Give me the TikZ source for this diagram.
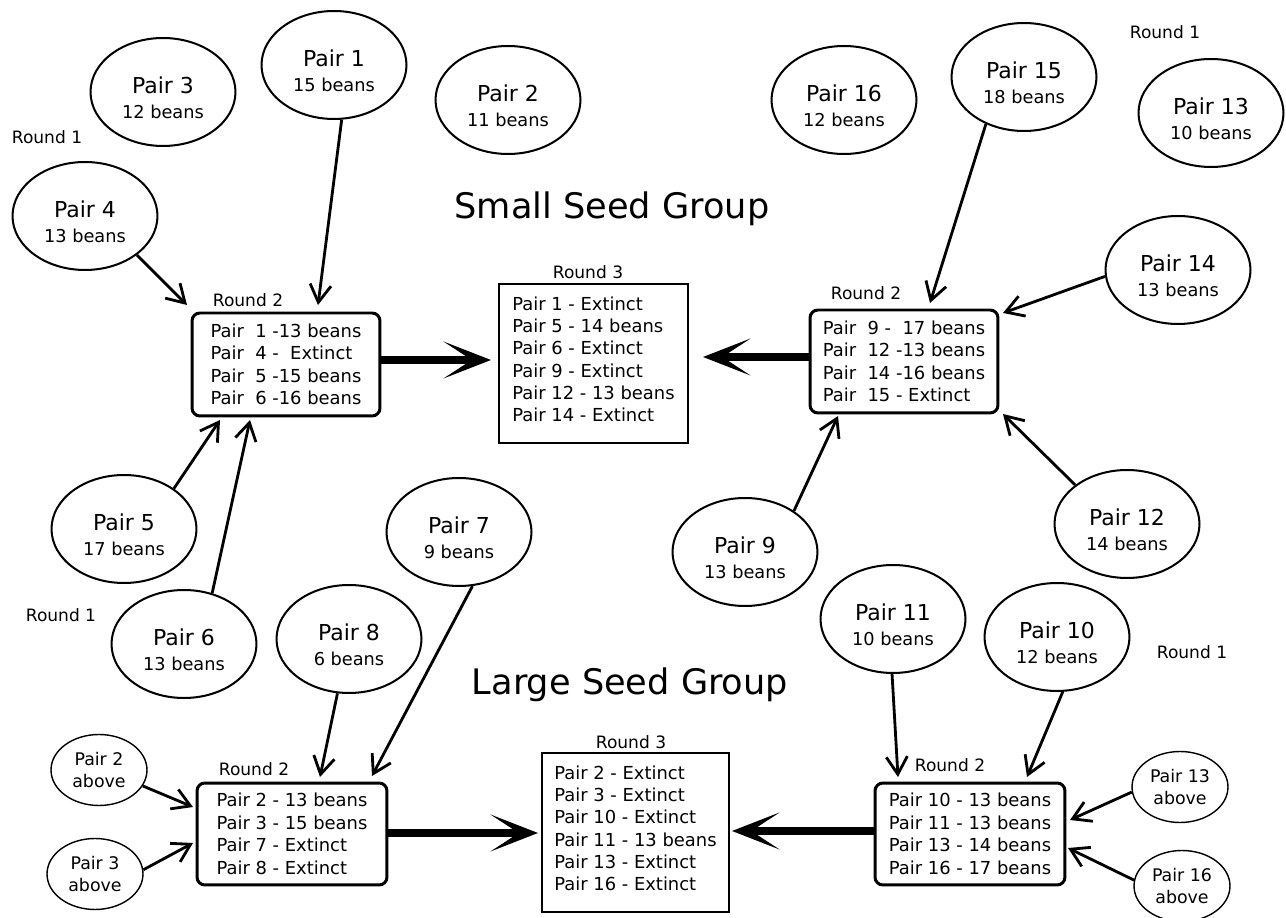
\documentclass[tikz,border=0pt]{standalone}
\usepackage{fontspec}
\setmainfont{DejaVu Sans}
\usetikzlibrary{shapes.geometric,arrows.meta}
\newcommand{\twoln}[2]{\rule{0pt}{16pt}{\fontsize{12.5}{14.7}\selectfont #1}\\{#2}}
\begin{document}
\begin{tikzpicture}[x=0.02cm,y=-0.02cm,
  ell/.style={ellipse, draw, line width=1.15pt, inner sep=0pt, minimum width=2.9cm, minimum height=2.16cm, align=center, font=\fontsize{10.1}{14.7}\selectfont},
  sell/.style={ellipse, draw, line width=0.8pt, inner sep=0pt, minimum width=1.92cm, minimum height=1.42cm, align=center, font=\fontsize{9.9}{12.4}\selectfont},
  rtwo/.style={draw, rounded corners=4.5pt, line width=1.7pt, inner sep=0pt, align=left, font=\fontsize{10.2}{12.8}\selectfont},
  rthree/.style={draw, line width=1.1pt, inner sep=0pt, align=left, font=\fontsize{10.2}{12.7}\selectfont},
  lbl/.style={inner sep=0pt, font=\fontsize{9.7}{12}\selectfont},
  ttl/.style={inner sep=0pt, anchor=base, font=\fontsize{20}{24}\selectfont},
  arr/.style={line width=1.6pt, -{Straight Barb[length=10pt,width=12pt]}},
  big/.style={line width=4pt, -{Stealth[length=27pt,width=21pt,inset=16pt]}}]
\useasboundingbox (0,0) rectangle (1286,918);

% Round 1 ellipses
\node[ell] (p1) at (334,65) {\twoln{Pair 1}{15 beans}};
\node[ell] (p2) at (508,100) {\twoln{Pair 2}{11 beans}};
\node[ell] (p3) at (163,92) {\twoln{Pair 3}{12 beans}};
\node[ell] (p4) at (85,216) {\twoln{Pair 4}{13 beans}};
\node[ell] (p5) at (124,529) {\twoln{Pair 5}{17 beans}};
\node[ell] (p6) at (184,644) {\twoln{Pair 6}{13 beans}};
\node[ell] (p7) at (459,532) {\twoln{Pair 7}{9 beans}};
\node[ell] (p8) at (349,639) {\twoln{Pair 8}{6 beans}};
\node[ell] (p9) at (745,552) {\twoln{Pair 9}{13 beans}};
\node[ell] (p10) at (1057,637) {\twoln{Pair 10}{12 beans}};
\node[ell] (p11) at (893,619) {\twoln{Pair 11}{10 beans}};
\node[ell] (p12) at (1127,524) {\twoln{Pair 12}{14 beans}};
\node[ell] (p13) at (1211,113) {\twoln{Pair 13}{10 beans}};
\node[ell] (p14) at (1178,270) {\twoln{Pair 14}{13 beans}};
\node[ell] (p15) at (1024,77) {\twoln{Pair 15}{18 beans}};
\node[ell] (p16) at (844,100) {\twoln{Pair 16}{12 beans}};

% small "above" ellipses
\node[sell] (a2) at (99,770) {Pair 2\\above};
\node[sell] (a3) at (95,874) {Pair 3\\above};
\node[sell] (a13) at (1180,787) {Pair 13\\above};
\node[sell] (a16) at (1182,886) {Pair 16\\above};

% Round labels
\node[lbl] (r1a) at (47,137) {Round 1};
\node[lbl] (r1b) at (1165,32) {Round 1};
\node[lbl] (r1c) at (61,615) {Round 1};
\node[lbl] (r1d) at (1192,652) {Round 1};
\node[lbl] (r2a) at (248,300) {Round 2};
\node[lbl] (r3a) at (588,272) {Round 3};
\node[lbl] (r2b) at (866,293) {Round 2};
\node[lbl] (r2c) at (254,769) {Round 2};
\node[lbl] (r3b) at (631,742) {Round 3};
\node[lbl] (r2d) at (950,765) {Round 2};

% titles
\node[ttl] (tsmall) at (612,219) {Small Seed Group};
\node[ttl] (tlarge) at (630,695) {Large Seed Group};

% boxes
\node[rtwo, minimum width=3.76cm, minimum height=2.06cm] (b1) at (286,364.5)
  {Pair~~1 -13 beans\\Pair~~4 -~~Extinct\\Pair~~5 -15 beans\\Pair~~6 -16 beans};
\node[rtwo, minimum width=3.76cm, minimum height=2.06cm] (b2) at (904,361.5)
  {Pair~~9 -~~17 beans\\Pair~~12 -13 beans\\Pair~~14 -16 beans\\Pair~~15 - Extinct};
\node[rtwo, minimum width=3.8cm, minimum height=2.04cm] (b3) at (292,834)
  {Pair 2 - 13 beans\\Pair 3 - 15 beans\\Pair 7 - Extinct\\Pair 8 - Extinct};
\node[rtwo, minimum width=3.8cm, minimum height=2.04cm] (b4) at (970,834)
  {Pair 10 - 13 beans\\Pair 11 - 13 beans\\Pair 13 - 14 beans\\Pair 16 - 17 beans};
\node[rthree, minimum width=3.78cm, minimum height=3.18cm] (s3) at (593.5,363.5)
  {Pair 1 - Extinct\\Pair 5 - 14 beans\\Pair 6 - Extinct\\Pair 9 - Extinct\\Pair 12 - 13 beans\\Pair 14 - Extinct\rule[-5pt]{0pt}{5pt}};
\node[rthree, minimum width=3.74cm, minimum height=3.18cm] (l3) at (635.5,832.5)
  {Pair 2 - Extinct\\Pair 3 - Extinct\\Pair 10 - Extinct\\Pair 11 - 13 beans\\Pair 13 - Extinct\\Pair 16 - Extinct\rule[-5pt]{0pt}{5pt}};

% arrow tips
\coordinate (t1) at (318,305);
\coordinate (t4) at (187,305);
\coordinate (t5) at (220,420);
\coordinate (t6) at (250,420);
\coordinate (t15) at (930,303);
\coordinate (t14) at (1003,313);
\coordinate (t9) at (838,416);
\coordinate (t12) at (1003,414);
\coordinate (t8) at (320,777);
\coordinate (t7) at (372,776);
\coordinate (ta2) at (193,807);
\coordinate (ta3) at (193,843);
\coordinate (t11) at (898,777);
\coordinate (t10) at (1027,777);
\coordinate (ta13) at (1070,820);
\coordinate (ta16) at (1068,848);
\coordinate (ks) at (491,360);
\coordinate (kr) at (703,357);
\coordinate (kl) at (538,833);
\coordinate (kq) at (732,831);

% thin arrows
\draw[arr] (p1.-82) -- (t1);
\draw[arr] (p4.-37) -- (t4);
\draw[arr] (p5.39) -- (t5);
\draw[arr] (p6.61) -- (t6);
\draw[arr] (p15.-129) -- (t15);
\draw[arr] (p14.185) -- (t14);
\draw[arr] (p9.40) -- (t9);
\draw[arr] (p12.143) -- (t12);
\draw[arr] (p8.-102) -- (t8);
\draw[arr] (p7.-76) -- (t7);
\draw[arr] (a2.-20) -- (ta2);
\draw[arr] (a3.5) -- (ta3);
\draw[arr] (p11.-91) -- (t11);
\draw[arr] (p10.-84) -- (t10);
\draw[arr] (a13.186) -- (ta13);
\draw[arr] (a16.173) -- (ta16);

% thick arrows
\draw[big] (b1.east |- ks) -- (ks);
\draw[big] (b2.west |- kr) -- (kr);
\draw[big] (b3.east |- kl) -- (kl);
\draw[big] (b4.west |- kq) -- (kq);
\end{tikzpicture}
\end{document}
